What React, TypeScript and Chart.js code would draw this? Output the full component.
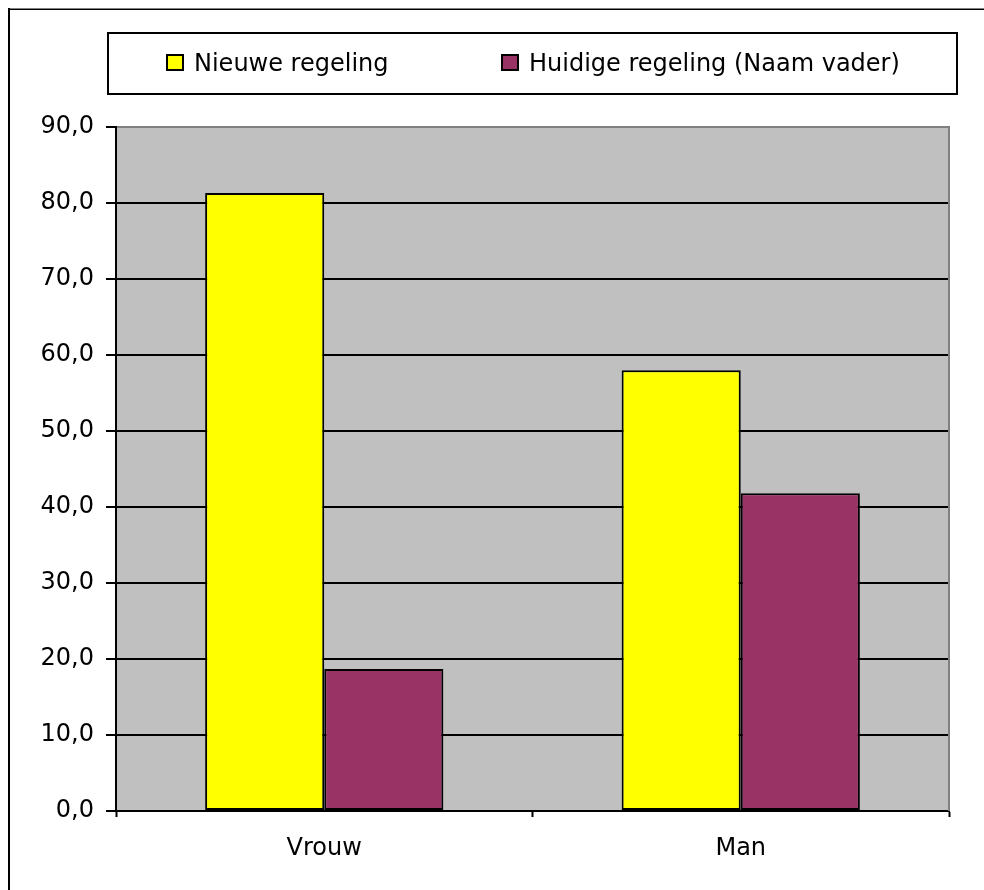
import React, { useEffect, useRef } from "react";
import { Chart, registerables } from "chart.js";

Chart.register(...registerables);

const categories = ["Vrouw", "Man"];
const nieuweRegeling = [81.3, 58.0];
const huidigeRegeling = [18.7, 41.8];
const seriesLabels = ["Nieuwe regeling", "Huidige regeling (Naam vader)"];
const seriesColors = ["#FFFF00", "#993366"];
const yMin = 0;
const yMax = 90;
const yStep = 10;

const FONT = "DejaVu Sans";

const framePlugin = {
  id: "frame",
  beforeDraw(chart: any) {
    const { ctx, chartArea: ca, width, height } = chart;
    ctx.save();
    ctx.fillStyle = "#FFFFFF";
    ctx.fillRect(0, 0, width, height);
    ctx.fillStyle = "#C0C0C0";
    ctx.fillRect(ca.left, ca.top, ca.right - ca.left, ca.bottom - ca.top);
    ctx.restore();
  },
  afterDraw(chart: any) {
    const { ctx, chartArea: ca, width, height } = chart;
    ctx.save();
    // plot right border
    ctx.strokeStyle = "#808080";
    ctx.lineWidth = 2;
    ctx.beginPath();
    ctx.moveTo(ca.right, ca.top - 1);
    ctx.lineTo(ca.right, ca.bottom);
    ctx.stroke();
    // outer frame
    ctx.fillStyle = "#808080";
    ctx.fillRect(0, 0, width, 1);
    ctx.fillStyle = "#000000";
    ctx.fillRect(0, 1, width, 1);
    ctx.fillRect(0, 0, 2, height);
    // legend box
    const bx = ca.left - 8;
    const by = 25;
    const bw = ca.right + 8 - bx;
    const bh = 61;
    ctx.strokeStyle = "#000000";
    ctx.lineWidth = 2;
    ctx.strokeRect(bx, by, bw, bh);
    ctx.font = `24px "${FONT}"`;
    ctx.textBaseline = "alphabetic";
    ctx.textAlign = "left";
    const sw = 18;
    const sh = 17;
    const gapText = 10;
    const gapItems = 112;
    const datasets = chart.data.datasets;
    const widths = datasets.map((d: any) => ctx.measureText(d.label).width);
    let total = 0;
    widths.forEach((w: number, i: number) => {
      total += sw + gapText + w + (i < widths.length - 1 ? gapItems : 0);
    });
    let x = Math.round(bx + bw / 2 - total / 2);
    datasets.forEach((d: any, i: number) => {
      ctx.fillStyle = d.backgroundColor;
      ctx.fillRect(x, 46, sw, sh);
      ctx.lineWidth = 2;
      ctx.strokeStyle = "#000000";
      ctx.strokeRect(x + 1, 47, sw - 2, sh - 2);
      ctx.fillStyle = "#000000";
      ctx.fillText(d.label, x + sw + gapText, 63);
      x = Math.round(x + sw + gapText + widths[i] + gapItems);
    });
    ctx.restore();
  },
};

export default function App() {
  const canvasRef = useRef<HTMLCanvasElement | null>(null);

  useEffect(() => {
    if (!canvasRef.current) return;
    const chart = new Chart(canvasRef.current, {
      type: "bar",
      data: {
        labels: categories,
        datasets: [
          {
            label: seriesLabels[0],
            data: nieuweRegeling,
            backgroundColor: seriesColors[0],
            borderColor: "#000000",
            borderWidth: 2,
            borderSkipped: false,
            categoryPercentage: 0.572,
            barPercentage: 1,
          },
          {
            label: seriesLabels[1],
            data: huidigeRegeling,
            backgroundColor: seriesColors[1],
            borderColor: "#000000",
            borderWidth: 2,
            borderSkipped: false,
            categoryPercentage: 0.572,
            barPercentage: 1,
          },
        ],
      },
      options: {
        responsive: false,
        animation: false,
        devicePixelRatio: 1,
        layout: { padding: { top: 119, right: 35, left: 0, bottom: 0 } },
        plugins: {
          legend: { display: false },
          tooltip: { enabled: false },
          title: { display: false },
        },
        scales: {
          x: {
            offset: true,
            afterFit: (scale: any) => {
              scale.height = 79;
            },
            grid: {
              offset: true,
              drawOnChartArea: false,
              drawTicks: true,
              tickLength: 6,
              tickColor: "#000000",
              tickWidth: 2,
            },
            border: { display: true, color: "#000000", width: 2 },
            ticks: {
              color: "#000000",
              font: { family: FONT, size: 24 },
              padding: 17,
              maxRotation: 0,
            },
          },
          y: {
            min: yMin,
            max: yMax,
            afterFit: (scale: any) => {
              scale.width = 108;
            },
            grid: {
              color: (c: any) => (c.tick && c.tick.value === yMax ? "#808080" : "#000000"),
              lineWidth: 2,
              tickLength: 10,
              tickColor: "#000000",
              tickWidth: 2,
            },
            border: { display: true, color: "#000000", width: 2 },
            ticks: {
              stepSize: yStep,
              color: "#000000",
              font: { family: FONT, size: 24 },
              padding: 12,
              callback: (v: any) => Number(v).toFixed(1).replace(".", ","),
            },
          },
        },
      },
      plugins: [framePlugin],
    });
    return () => chart.destroy();
  }, []);

  return (
    <div style={{ position: "absolute", left: 8, top: 8, width: 976, height: 882 }}>
      <canvas ref={canvasRef} width={976} height={882} style={{ display: "block" }} />
    </div>
  );
}
